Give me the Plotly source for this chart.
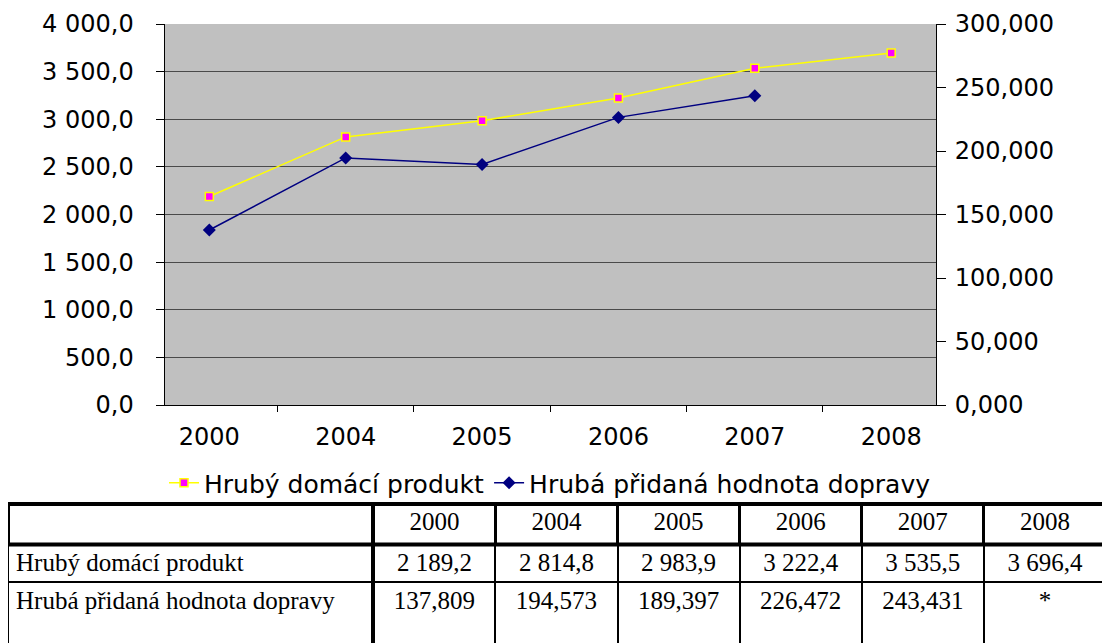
import plotly.graph_objects as go

# ---- data ----
years = ["2000", "2004", "2005", "2006", "2007", "2008"]
hdp = [2189.2, 2814.8, 2983.9, 3222.4, 3535.5, 3696.4]
hph = [137.809, 194.573, 189.397, 226.472, 243.431, None]
name_hdp = "Hrubý domácí produkt"
name_hph = "Hrubá přidaná hodnota dopravy"

W, H = 1110, 643
OFF = 8  # page body margin


def px_x(x):
    return max(0.0, (x - OFF) / W)


def px_y(y):
    return min(1.0, max(0.0, 1 - (y - OFF) / H))


def fmt(v, dec):
    if v is None:
        return "*"
    s = f"{v:,.{dec}f}"
    return s.replace(",", " ").replace(".", ",")


sans = "DejaVu Sans"
serif = "Liberation Serif"
fsize = 24

fig = go.Figure()
fig.add_trace(go.Scatter(
    x=years, y=hdp, name=name_hdp, mode="lines+markers",
    line=dict(color="#FFFF00", width=1.5),
    marker=dict(symbol="square", size=8, color="#FF00FF",
                line=dict(color="#FFFF00", width=1.5)),
    yaxis="y", xaxis="x",
))
fig.add_trace(go.Scatter(
    x=years, y=hph, name=name_hph, mode="lines+markers",
    line=dict(color="#000080", width=1.5),
    marker=dict(symbol="diamond", size=10, color="#000080"),
    yaxis="y2", xaxis="x", connectgaps=False,
))

# ---- table ----
TBL_L, TBL_R = OFF, 1106
colw = [373 - OFF] + [122] * 6
tbl_font = dict(family=serif, size=25, color="black")
aligns = ["left"] + ["center"] * 6
fig.add_trace(go.Table(
    domain=dict(x=[px_x(TBL_L), px_x(TBL_R)], y=[px_y(583), px_y(503)]),
    columnwidth=colw,
    header=dict(values=[""] + years, height=41, fill_color="white",
                line=dict(color="black", width=3), font=tbl_font,
                align=aligns),
    cells=dict(values=[[name_hdp]] + [[fmt(v, 1)] for v in hdp], height=39,
               fill_color="white", line=dict(color="black", width=2),
               font=tbl_font, align=aligns),
))
fig.add_trace(go.Table(
    domain=dict(x=[px_x(TBL_L), px_x(TBL_R)], y=[0, px_y(582)]),
    columnwidth=colw,
    header=dict(values=[name_hph] + [fmt(v, 3) for v in hph], height=64,
                fill_color="white", line=dict(color="black", width=2),
                font=tbl_font, align=aligns),
    cells=dict(values=[], fill_color="white",
               line=dict(color="rgba(0,0,0,0)", width=0)),
))

# thick table rule lines (styling)
shapes = []
for (x0, y0, x1, y1, w) in [
    (373, 503, 373, 660, 4),
    (1106, 503, 1106, 660, 4),
    (TBL_L, 504, 1106, 504, 4),
    (TBL_L, 544.5, 1106, 544.5, 4),
]:
    shapes.append(dict(type="line", xref="paper", yref="paper",
                       x0=px_x(x0), x1=px_x(x1), y0=px_y(y0), y1=px_y(y1),
                       line=dict(color="black", width=w), layer="above"))

x_dom = [px_x(164.5), px_x(936)]
y_dom = [px_y(405), px_y(24)]

fig.update_layout(
    width=W, height=H,
    margin=dict(l=0, r=0, t=0, b=0, autoexpand=False),
    paper_bgcolor="white",
    plot_bgcolor="#C0C0C0",
    separators=", ",
    font=dict(family=sans, size=fsize, color="black"),
    showlegend=True,
    legend=dict(orientation="h", x=px_x(550), xanchor="center",
                y=px_y(483), yanchor="middle",
                font=dict(family=sans, size=25, color="black"),
                bgcolor="rgba(0,0,0,0)", itemwidth=30, tracegroupgap=0),
    xaxis=dict(domain=x_dom, type="category", showgrid=False,
               showline=True, linecolor="black", linewidth=1,
               ticks="outside", ticklen=6, tickcolor="black",
               tickson="boundaries", ticklabelstandoff=10,
               anchor="y", mirror=False, zeroline=False, automargin=False,
               tickfont=dict(family=sans, size=fsize)),
    yaxis=dict(domain=y_dom, range=[0, 4000], dtick=500, tick0=0,
               tickformat=",.1f", showgrid=True, gridcolor="#4a4a4a",
               gridwidth=1, showline=True, linecolor="black", linewidth=1,
               ticks="outside", ticklen=8, tickcolor="black",
               ticklabelstandoff=17, zeroline=False, automargin=False,
               tickfont=dict(family=sans, size=fsize)),
    yaxis2=dict(overlaying="y", side="right", anchor="x",
                range=[0, 300], dtick=50, tick0=0, tickformat=".3f",
                showgrid=False, showline=True, linecolor="black",
                linewidth=1, ticks="outside", ticklen=9, tickcolor="black",
                ticklabelstandoff=4, zeroline=False, automargin=False,
                tickfont=dict(family=sans, size=fsize)),
    yaxis3=dict(overlaying="y", side="right", anchor="x",
                range=[0, 300], dtick=50, tick0=0, showgrid=False,
                showline=False, ticks="inside", ticklen=9, automargin=False,
                tickcolor="black", showticklabels=False, zeroline=False),
    shapes=shapes,
)

fig.write_html("out.html")
